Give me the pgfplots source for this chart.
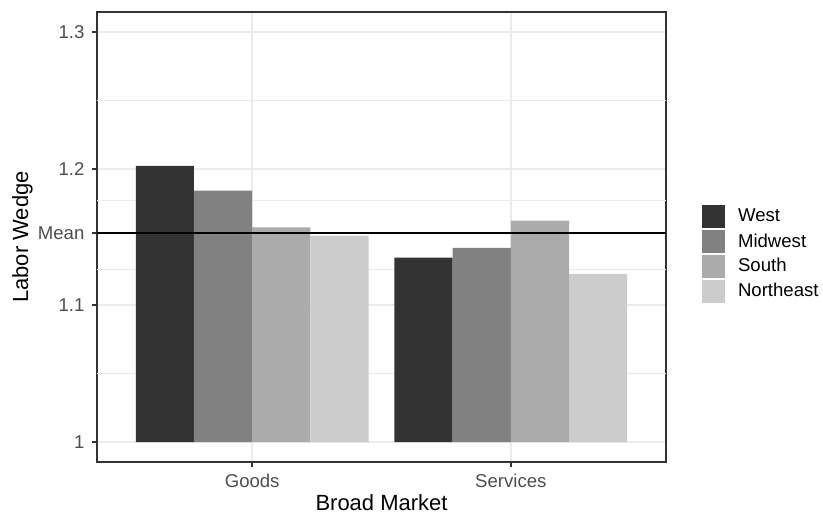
\documentclass[border=0pt]{standalone}
\usepackage{fontspec}
\setmainfont{Liberation Sans}
\usepackage{pgfplots}
\pgfplotsset{compat=1.18}
\usepackage{pgfplotstable}
\definecolor{cW}{HTML}{333333}
\definecolor{cM}{HTML}{818181}
\definecolor{cS}{HTML}{ABABAB}
\definecolor{cN}{HTML}{CCCCCC}
\definecolor{gridc}{HTML}{EBEBEB}
\definecolor{g20}{HTML}{333333}
\definecolor{g30}{HTML}{4D4D4D}
\pgfplotsset{
  keyimg/.style={legend image code/.code={%
    \path[fill=#1, draw=white, line width=0.5pt] (0pt,-6.72pt) rectangle (13.44pt,6.72pt);}},
}
\pgfplotstableread{
x v
1 1.202
2 1.135
}\west
\pgfplotstableread{
x v
1 1.184
2 1.142
}\midwest
\pgfplotstableread{
x v
1 1.157
2 1.162
}\south
\pgfplotstableread{
x v
1 1.151
2 1.123
}\northeast
\pgfplotstableread{
x v
0.4 1.153
2.6 1.153
}\meanline
\begin{document}
\begin{tikzpicture}
\path[use as bounding box] (-54.3pt,-29.1pt) rectangle (406.5pt,258.7pt);
\begin{axis}[
  scale only axis, width=318.6pt, height=252pt,
  at={(0pt,0pt)}, anchor=south west,
  xmin=0.4, xmax=2.6, ymin=-0.0146, ymax=0.3146,
  xtick={1,2}, xticklabels={Goods,Services},
  ytick={0,0.1,0.153,0.2,0.3}, yticklabels={1,1.1,Mean,1.2,1.3},
  extra y ticks={0.05,0.1265,0.1765,0.25}, extra y tick labels={},
  extra y tick style={grid=major, major grid style={color=gridc, line width=0.53pt}, major tick length=0pt},
  grid=major, major grid style={color=gridc, line width=1.07pt},
  axis line style={color=g20, line width=1.07pt},
  tick style={color=g20, line width=1.07pt},
  tick align=outside, major tick length=2.75pt,
  xtick pos=bottom, ytick pos=left,
  ticklabel style={font=\fontsize{10.4}{12}\selectfont, text=g30},
  yticklabel style={anchor=east, inner sep=0pt, xshift=-4.1pt},
  xticklabel style={anchor=north, inner sep=0pt, yshift=-4.0pt},
  xlabel={Broad Market}, ylabel={Labor Wedge},
  label style={font=\fontsize{12.3}{14}\selectfont},
  xlabel style={at={(axis description cs:0.5,-0.091)}, anchor=center},
  ylabel style={at={(axis description cs:-0.131,0.5)}, anchor=center},
  legend style={at={(axis description cs:1,0.462)}, anchor=west, xshift=19.6pt,
    draw=none, inner sep=0pt, outer sep=0pt, row sep=0pt, column sep=6.8pt,
    nodes={inner sep=0pt},
    font=\fontsize{10.4}{12}\selectfont},
  legend cell align=left,
]
\addplot[ybar, bar width=0.225, draw=none, bar shift=-0.3375, fill=cW, keyimg=cW] table[x=x, y expr=\thisrow{v}-1] {\west};
\addlegendentry{West}
\addplot[ybar, bar width=0.225, draw=none, bar shift=-0.1125, fill=cM, keyimg=cM] table[x=x, y expr=\thisrow{v}-1] {\midwest};
\addlegendentry{Midwest}
\addplot[ybar, bar width=0.225, draw=none, bar shift=0.1125, fill=cS, keyimg=cS] table[x=x, y expr=\thisrow{v}-1] {\south};
\addlegendentry{South}
\addplot[ybar, bar width=0.225, draw=none, bar shift=0.3375, fill=cN, keyimg=cN] table[x=x, y expr=\thisrow{v}-1] {\northeast};
\addlegendentry{Northeast}
\addplot[sharp plot, black, line width=1.07pt, forget plot] table[x=x, y expr=\thisrow{v}-1] {\meanline};
\end{axis}
\end{tikzpicture}
\end{document}
